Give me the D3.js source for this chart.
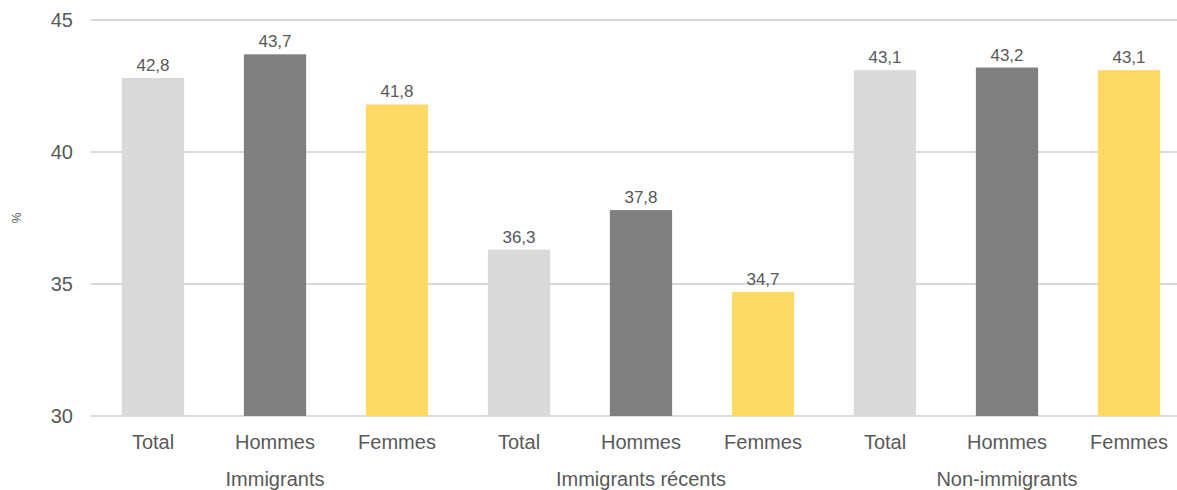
<!DOCTYPE html>
<html><head><meta charset="utf-8">
<script src="https://cdn.jsdelivr.net/npm/d3@7"></script>
<style>body{margin:0;background:#fff;}svg{display:block;font-family:"Liberation Sans",Arial,sans-serif;}</style>
</head><body>
<svg id="c" width="1177" height="490"></svg>
<script>
const groups = ["Immigrants", "Immigrants récents", "Non-immigrants"];
const subCats = ["Total", "Hommes", "Femmes"];
const values = [
  [42.8, 43.7, 41.8],
  [36.3, 37.8, 34.7],
  [43.1, 43.2, 43.1]
];
const yTicks = [30, 35, 40, 45];
const colors = ["#d9d9d9", "#7f7f7f", "#ffd966"];
const yLabel = "%";

const svg = d3.select("#c");
const rows = [];
groups.forEach((g, gi) => subCats.forEach((s, si) => rows.push({g, gi, s, si, v: values[gi][si], key: gi + "-" + si})));

const x = d3.scaleBand().domain(rows.map(r => r.key)).range([92, 1190]).paddingInner(0.49).paddingOuter(0.245);
const y = d3.scaleLinear().domain([30, 45]).range([416, 20]);
const txt = "#595959";

// gridlines
svg.append("g").selectAll("line").data(yTicks).join("line")
  .attr("x1", 91).attr("x2", 1190)
  .attr("y1", d => y(d)).attr("y2", d => y(d))
  .attr("stroke", "#d9d9d9").attr("stroke-width", 1.8);

// y tick labels
svg.append("g").selectAll("text").data(yTicks).join("text")
  .attr("x", 73).attr("y", d => y(d)).attr("dy", "0.35em")
  .attr("text-anchor", "end").attr("font-size", 20).attr("fill", txt)
  .text(d => d);

// bars
svg.append("g").selectAll("rect").data(rows).join("rect")
  .attr("x", d => x(d.key)).attr("width", x.bandwidth())
  .attr("y", d => y(d.v)).attr("height", d => y(30) - y(d.v))
  .attr("fill", d => colors[d.si]);

// value labels
const fmt = v => v.toFixed(1).replace(".", ",");
svg.append("g").selectAll("text").data(rows).join("text")
  .attr("x", d => x(d.key) + x.bandwidth() / 2).attr("y", d => y(d.v) - 7)
  .attr("text-anchor", "middle").attr("font-size", 17).attr("fill", txt)
  .text(d => fmt(d.v));

// category labels
svg.append("g").selectAll("text").data(rows).join("text")
  .attr("x", d => x(d.key) + x.bandwidth() / 2).attr("y", 449)
  .attr("text-anchor", "middle").attr("font-size", 20).attr("fill", txt)
  .text(d => d.s);

// group labels
svg.append("g").selectAll("text").data(groups).join("text")
  .attr("x", (g, gi) => x(gi + "-1") + x.bandwidth() / 2).attr("y", 486)
  .attr("text-anchor", "middle").attr("font-size", 20).attr("fill", txt)
  .text(d => d);

// y axis title
svg.append("text").attr("transform", "translate(21,218) rotate(-90)")
  .attr("text-anchor", "middle").attr("font-size", 12).attr("fill", txt)
  .text(yLabel);
</script>
</body></html>
